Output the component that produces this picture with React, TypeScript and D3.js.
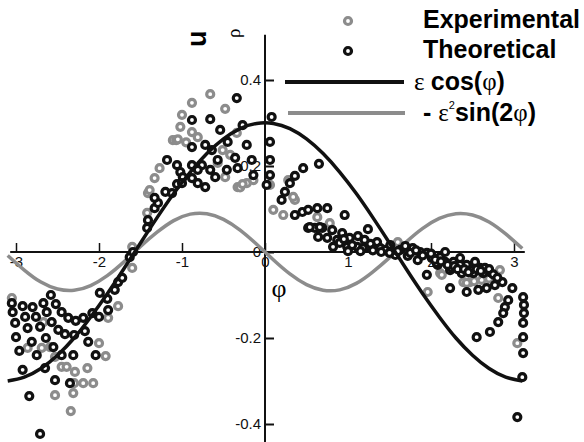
import React, { useEffect, useRef } from 'react';
import * as d3 from 'd3';

const width = 584;
const height = 442;

// phi samples for the two analytic curves
const curvePhi = [-3.1, -2.9, -2.7, -2.5, -2.3, -2.1, -1.9, -1.7, -1.5, -1.3, -1.1, -0.9, -0.7, -0.5, -0.3, -0.1,
  0.1, 0.3, 0.5, 0.7, 0.9, 1.1, 1.3, 1.5, 1.7, 1.9, 2.1, 2.3, 2.5, 2.7, 2.9, 3.1];
const epsCos = [-0.300, -0.291, -0.271, -0.240, -0.200, -0.151, -0.097, -0.039, 0.021, 0.080, 0.136, 0.186, 0.229, 0.263, 0.287, 0.299,
  0.299, 0.287, 0.263, 0.229, 0.186, 0.136, 0.080, 0.021, -0.039, -0.097, -0.151, -0.200, -0.240, -0.271, -0.291, -0.300];
const epsSin = [-0.008, -0.042, -0.070, -0.086, -0.089, -0.078, -0.055, -0.023, 0.013, 0.046, 0.073, 0.088, 0.089, 0.076, 0.051, 0.018,
  -0.018, -0.051, -0.076, -0.089, -0.088, -0.073, -0.046, -0.013, 0.023, 0.055, 0.078, 0.089, 0.086, 0.070, 0.042, 0.008];

// [phi, u]
const experimental: [number, number][] = [
  [-3.05, -0.107], [-2.67, -0.163], [-2.86, -0.223], [-2.69, -0.223], [-2.59, -0.221], [-2.53, -0.244],
  [-2.45, -0.267], [-2.39, -0.267], [-2.29, -0.279], [-2.14, -0.270], [-2.19, -0.305], [-2.07, -0.305],
  [-2.30, -0.305], [-2.31, -0.328], [-2.53, -0.333], [-2.34, -0.370], [-2.00, -0.212], [-1.92, -0.242],
  [-1.77, -0.126], [-1.89, -0.153], [-1.41, 0.137], [-1.42, 0.091], [-1.60, 0.012], [-1.60, -0.037],
  [-0.66, 0.367], [-0.88, 0.347], [-0.48, 0.333], [-1.00, 0.319], [-1.02, 0.291], [-0.88, 0.279],
  [-0.81, 0.267], [-1.11, 0.260], [-1.07, 0.260], [-0.34, 0.277], [-0.51, 0.237], [-0.42, 0.226],
  [-1.27, 0.195], [-1.33, 0.172], [-1.39, 0.144], [-0.33, 0.151], [-0.22, 0.160], [-0.14, 0.167],
  [-0.57, 0.207], [-0.48, 0.174], [0.06, 0.156], [0.10, 0.098], [0.22, 0.086], [0.36, 0.121],
  [0.28, 0.167], [0.34, 0.128], [0.63, 0.081], [0.78, 0.067], [1.60, 0.023], [2.11, -0.049],
  [1.96, -0.093], [2.39, -0.070], [2.47, -0.070], [2.61, -0.065], [2.81, -0.107], [2.83, -0.042],
  [2.13, -0.053], [3.04, -0.212], [1.72, 0.005], [2.30, -0.035], [2.55, -0.055], [2.43, -0.072],
  [2.70, -0.062], [2.52, -0.068], [-1.05, 0.262], [-0.95, 0.255], [-0.30, 0.150], [-0.27, 0.158],
];

const theoretical: [number, number][] = [
  [-3.05, -0.119], [-3.04, -0.140], [-2.92, -0.126], [-2.80, -0.128], [-2.67, -0.119], [-2.58, -0.100],
  [-2.52, -0.121], [-2.45, -0.140], [-2.37, -0.153], [-2.28, -0.160], [-2.19, -0.153], [-2.08, -0.142],
  [-2.00, -0.151], [-1.89, -0.135], [-3.01, -0.165], [-3.00, -0.198], [-2.96, -0.230], [-2.92, -0.274],
  [-2.89, -0.151], [-2.76, -0.151], [-2.63, -0.140], [-2.86, -0.177], [-2.71, -0.174], [-2.57, -0.163],
  [-2.49, -0.181], [-2.41, -0.191], [-2.30, -0.193], [-2.17, -0.184], [-2.81, -0.209], [-2.64, -0.200],
  [-2.55, -0.221], [-2.75, -0.240], [-2.45, -0.240], [-2.31, -0.240], [-2.13, -0.209], [-2.04, -0.240],
  [-2.65, -0.270], [-2.53, -0.298], [-2.35, -0.305], [-2.84, -0.335], [-2.71, -0.423], [-1.99, -0.095],
  [-1.90, -0.109], [-1.81, -0.088], [-1.77, -0.070], [-1.72, -0.060], [-1.63, -0.012], [-1.59, 0.000],
  [-1.42, 0.056], [-1.41, 0.074], [-1.33, 0.102], [-1.29, 0.114], [-1.20, 0.140], [-1.12, 0.137],
  [-1.06, 0.158],
  [-0.34, 0.358], [-0.88, 0.307], [-0.66, 0.309], [0.08, 0.314], [-0.27, 0.295], [-0.54, 0.284],
  [-0.88, 0.244], [-0.72, 0.249], [-0.64, 0.237], [-0.45, 0.256], [-0.22, 0.249], [0.06, 0.256],
  [-1.18, 0.214], [-1.06, 0.202], [-0.88, 0.202], [-0.76, 0.202], [-0.57, 0.214], [-0.36, 0.219],
  [-0.16, 0.214], [0.06, 0.214], [-1.02, 0.186], [-0.81, 0.191], [-0.66, 0.191], [-0.46, 0.191],
  [-0.33, 0.195], [-0.88, 0.172], [-0.99, 0.174], [-0.60, 0.174], [-0.14, 0.179], [0.06, 0.179],
  [-1.00, 0.160], [-0.81, 0.160], [-0.72, 0.151], [0.02, 0.156], [-1.33, 0.126],
  [0.46, 0.195], [0.65, 0.205], [0.36, 0.177], [0.30, 0.160], [0.24, 0.140], [0.20, 0.121],
  [0.36, 0.086], [0.45, 0.093], [0.52, 0.098], [0.63, 0.102], [0.75, 0.102], [0.96, 0.086],
  [0.52, 0.056], [0.60, 0.056], [0.69, 0.056], [0.81, 0.051], [0.93, 0.044], [1.24, 0.053],
  [0.64, 0.035], [0.75, 0.033], [0.87, 0.028], [1.02, 0.033], [1.12, 0.037], [1.35, 0.023],
  [0.82, 0.012], [0.99, 0.012], [1.11, 0.012], [1.23, 0.012], [0.54, 0.058], [0.66, 0.058],
  [1.18, 0.009], [1.39, 0.009], [1.78, 0.009], [1.95, -0.002], [2.11, -0.012], [2.27, -0.023],
  [2.43, -0.030], [2.59, -0.037], [2.71, -0.047], [1.84, -0.019], [2.08, -0.030], [1.95, -0.053],
  [2.23, -0.042], [2.37, -0.049], [2.51, -0.049], [2.63, -0.049], [2.23, -0.084], [2.43, -0.093],
  [2.57, -0.088], [2.67, -0.084], [2.77, -0.077], [2.86, -0.070], [2.98, -0.084], [2.93, -0.112],
  [2.89, -0.128], [2.87, -0.142], [2.81, -0.163], [2.71, -0.186], [2.55, -0.198], [3.11, -0.105],
  [3.12, -0.123], [3.12, -0.142], [3.11, -0.165], [3.11, -0.198], [3.11, -0.235], [3.10, -0.291],
  [3.04, -0.384], [2.25, -0.037], [2.07, -0.026],
  [1.27, 0.019], [1.45, 0.005], [1.87, 0.000], [2.01, -0.014], [2.17, -0.023], [2.35, -0.030],
  [2.48, -0.042], [2.65, -0.037], [0.90, 0.021], [1.05, 0.016], [1.57, -0.007], [1.72, -0.009],
  [2.35, -0.014], [2.17, 0.000], [2.53, -0.023], [1.51, 0.016], [1.63, 0.005], [1.69, 0.014],
  [1.30, 0.004], [1.40, 0.000], [1.50, -0.002], [1.60, 0.002], [1.75, -0.002], [1.82, 0.004],
  [1.90, -0.008], [2.00, -0.004], [2.05, -0.018], [2.12, -0.022], [2.20, -0.030], [2.28, -0.033],
  [2.32, -0.040], [2.40, -0.040], [2.45, -0.047], [2.55, -0.040], [2.60, -0.044], [2.70, -0.040],
  [2.75, -0.052], [2.80, -0.060], [1.00, 0.002], [1.15, 0.002], [0.95, 0.030], [1.20, 0.028],
];

const xTicks = [-3, -2, -1, 0, 1, 2, 3];
const yTicks = [-0.4, -0.2, 0, 0.2, 0.4];

const gray = '#8c8c8c';
const black = '#111';
const sans = '"Liberation Sans", Arial, sans-serif';
const serif = '"Liberation Serif", "DejaVu Serif", serif';

const App = () => {
  const ref = useRef<SVGSVGElement>(null);

  useEffect(() => {
    const svg = d3.select(ref.current);
    svg.selectAll('*').remove();

    const x = d3.scaleLinear().domain([-3, 3]).range([16, 514]);
    const y = d3.scaleLinear().domain([-0.4, 0.4]).range([424, 80]);

    // axes lines
    svg.append('line')
      .attr('x1', x(-3.07)).attr('x2', x(3.13))
      .attr('y1', y(0)).attr('y2', y(0))
      .attr('stroke', black).attr('stroke-width', 2);
    svg.append('line')
      .attr('x1', x(0)).attr('x2', x(0))
      .attr('y1', y(0.505)).attr('y2', height)
      .attr('stroke', black).attr('stroke-width', 2);

    const xAxis = svg.append('g')
      .attr('transform', `translate(0,${y(0)})`)
      .call(d3.axisBottom(x).tickValues(xTicks).tickSizeInner(-9).tickSizeOuter(0).tickPadding(4)
        .tickFormat(d => `${d}`));
    xAxis.select('.domain').remove();
    xAxis.selectAll('line').attr('stroke', black).attr('stroke-width', 1.5);
    xAxis.selectAll('text').attr('font-family', sans).attr('font-size', 15).attr('fill', black);

    const yAxis = svg.append('g')
      .attr('transform', `translate(${x(0)},0)`)
      .call(d3.axisLeft(y).tickValues(yTicks).tickSizeInner(-9).tickSizeOuter(0).tickPadding(4)
        .tickFormat(d => `${d}`));
    yAxis.select('.domain').remove();
    yAxis.selectAll('line').attr('stroke', black).attr('stroke-width', 2);
    yAxis.selectAll('text').attr('font-family', sans).attr('font-size', 15).attr('fill', black);

    // axis labels
    svg.append('text')
      .attr('x', 279).attr('y', 297)
      .attr('text-anchor', 'middle')
      .attr('font-family', serif).attr('font-size', 26)
      .text('φ');
    svg.append('text')
      .attr('transform', 'translate(206,47) rotate(-90)')
      .attr('font-family', sans).attr('font-weight', 'bold').attr('font-size', 27)
      .text('u');
    svg.append('text')
      .attr('transform', 'translate(240,38) rotate(-90)')
      .attr('font-family', serif).attr('font-size', 19)
      .text('ρ');

    const line = d3.line<number>()
      .x((d, i) => x(curvePhi[i]))
      .y(d => y(d))
      .curve(d3.curveNatural);

    svg.append('path')
      .attr('d', line(epsSin))
      .attr('fill', 'none').attr('stroke', gray).attr('stroke-width', 3.5);

    const drawPoints = (data: [number, number][], color: string) => {
      svg.append('g')
        .selectAll('circle')
        .data(data)
        .join('circle')
        .attr('cx', d => x(d[0]))
        .attr('cy', d => y(d[1]))
        .attr('r', 3.5)
        .attr('fill', 'white')
        .attr('stroke', color)
        .attr('stroke-width', 3.2);
    };
    drawPoints(experimental, gray);
    drawPoints(theoretical, black);

    svg.append('path')
      .attr('d', line(epsCos))
      .attr('fill', 'none').attr('stroke', black).attr('stroke-width', 3.5);

    // legend
    const lg = svg.append('g');
    lg.append('circle').attr('cx', 348).attr('cy', 21).attr('r', 3.5)
      .attr('fill', 'white').attr('stroke', gray).attr('stroke-width', 3.2);
    lg.append('circle').attr('cx', 348).attr('cy', 51).attr('r', 3.5)
      .attr('fill', 'white').attr('stroke', black).attr('stroke-width', 3.2);
    lg.append('text').attr('x', 423).attr('y', 28)
      .attr('font-family', sans).attr('font-weight', 'bold').attr('font-size', 25)
      .text('Experimental');
    lg.append('text').attr('x', 423).attr('y', 58)
      .attr('font-family', sans).attr('font-weight', 'bold').attr('font-size', 25)
      .text('Theoretical');
    lg.append('line').attr('x1', 285).attr('x2', 404).attr('y1', 82).attr('y2', 82)
      .attr('stroke', black).attr('stroke-width', 4);
    lg.append('line').attr('x1', 288).attr('x2', 405).attr('y1', 113).attr('y2', 113)
      .attr('stroke', gray).attr('stroke-width', 4);

    const t1 = lg.append('text').attr('x', 414).attr('y', 90).attr('font-size', 25).attr('font-family', sans);
    t1.append('tspan').attr('font-family', serif).text('ε ');
    t1.append('tspan').attr('font-weight', 'bold').text('cos(');
    t1.append('tspan').attr('font-family', serif).text('φ');
    t1.append('tspan').attr('font-weight', 'bold').text(')');

    const t2 = lg.append('text').attr('x', 423).attr('y', 121).attr('font-size', 25).attr('font-family', sans);
    t2.append('tspan').attr('font-weight', 'bold').text('- ');
    t2.append('tspan').attr('font-family', serif).text('ε');
    t2.append('tspan').attr('font-size', 11).attr('dy', -12).text('2');
    t2.append('tspan').attr('font-weight', 'bold').attr('dy', 12).text('sin(2');
    t2.append('tspan').attr('font-family', serif).text('φ');
    t2.append('tspan').attr('font-weight', 'bold').text(')');
  }, []);

  return (
    <svg ref={ref} width={width} height={height}
      style={{ position: 'absolute', left: 0, top: 0, background: 'white' }} />
  );
};

export default App;
